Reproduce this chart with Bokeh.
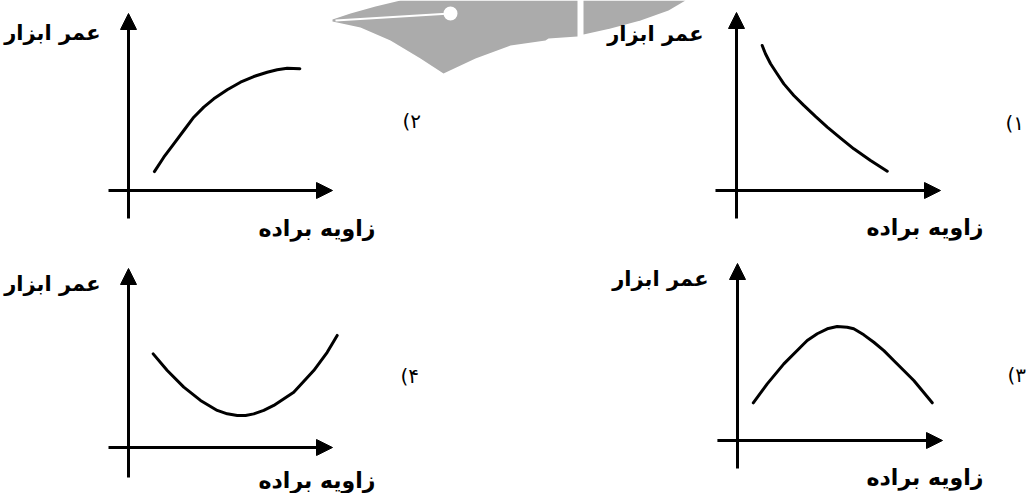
from bokeh.plotting import figure
from bokeh.models import Range1d, Arrow, NormalHead, Label
from bokeh.embed import file_html
from bokeh.resources import INLINE

# ---------------- data ----------------
y_title = "عمر ابزار"
x_title = "زاویه براده"
option_labels = ["(۱", "(۲", "(۳", "(۴"]

# option 1: tool life falls with rake angle
angle_1 = [1.26, 1.42, 1.67, 1.99, 2.32, 2.81, 3.3, 3.87, 4.45, 5.1, 5.75, 6.57, 7.39]
life_1 = [8.15, 7.68, 7.12, 6.56, 5.99, 5.34, 4.78, 4.16, 3.56, 2.94, 2.34, 1.69, 1.08]
# option 2: tool life rises with rake angle
angle_2 = [1.27, 1.73, 2.22, 2.71, 3.2, 3.69, 4.18, 4.84, 5.49, 6.14, 6.8, 7.29, 7.78, 8.4]
life_2 = [1.07, 1.88, 2.64, 3.39, 4.14, 4.71, 5.18, 5.69, 6.12, 6.44, 6.68, 6.82, 6.91, 6.88]
# option 3: tool life has a maximum
angle_3 = [0.77, 1.45, 2.26, 3.07, 3.4, 3.89, 4.38, 4.86, 5.35, 5.67, 6.16, 6.65, 7.14, 7.62, 8.6, 9.5]
life_3 = [2.13, 3.2, 4.33, 5.27, 5.65, 6.03, 6.31, 6.44, 6.4, 6.31, 5.97, 5.55, 5.08, 4.52, 3.39, 2.13]
# option 4: tool life has a minimum
angle_4 = [1.21, 1.9, 2.71, 3.53, 4.35, 4.84, 5.33, 5.74, 6.14, 6.63, 7.12, 8.1, 9.08, 9.74, 10.23]
life_4 = [5.23, 4.3, 3.37, 2.63, 2.07, 1.88, 1.79, 1.79, 1.88, 2.07, 2.35, 3.09, 4.3, 5.32, 6.26]

series = [(angle_1, life_1), (angle_2, life_2), (angle_3, life_3), (angle_4, life_4)]

# ---------------- layout (page pixels) ----------------
W, H = 1032, 493
LEFT, TOP = 0, 0
BOTTOM = TOP + H

panels = [
    dict(o=(736, 190), s=(20.4, 17.8), ax=(-1.03, 10), ay=(-1.57, 10),
         yt=(703, 33), xt=(983, 227), ol=(1005, 122)),
    dict(o=(128, 190), s=(20.4, 17.7), ax=(-0.98, 10), ay=(-1.58, 10),
         yt=(100, 32), xt=(375, 228), ol=(402, 120)),
    dict(o=(737, 440), s=(20.5, 17.7), ax=(-0.98, 10), ay=(-1.58, 10),
         yt=(708, 278), xt=(983, 477), ol=(1007, 374)),
    dict(o=(128, 447), s=(20.4, 17.9), ax=(-0.98, 10), ay=(-1.68, 10),
         yt=(100, 283), xt=(375, 480), ol=(400, 375)),
]

p = figure(width=W, height=H, output_backend="svg", toolbar_location=None,
           x_range=Range1d(LEFT, LEFT + W), y_range=Range1d(BOTTOM, TOP),
           x_axis_type=None, y_axis_type=None, min_border=0)
p.grid.visible = False
p.outline_line_color = None
p.background_fill_color = "white"
p.border_fill_color = "white"

# decorative watermark (pen nib) in page pixels
WM = "#ababab"
p.patch([332, 350, 375, 400, 577, 577, 548, 545, 510, 475, 443, 420, 390, 360, 332],
        [19, 13, 6, 0, 0, 36, 38, 40, 45, 58, 73, 58, 40, 27, 21],
        fill_color=WM, line_color=None)
p.patch([583, 685, 668, 640, 610, 583],
        [0, 0, 10, 20, 28, 34], fill_color=WM, line_color=None)
p.line([335, 450], [20, 13], line_color="white", line_width=2)
p.scatter([450], [13], size=14, fill_color="white", line_color=None)

FONT = "DejaVu Sans"

for i, (cfg, (xs, ys)) in enumerate(zip(panels, series)):
    ox, oy = cfg["o"]
    sx, sy = cfg["s"]
    xn, yn = f"x{i}", f"y{i}"
    xs0 = -(ox - LEFT) / sx
    ys0 = -(BOTTOM - oy) / sy
    p.extra_x_ranges[xn] = Range1d(xs0, xs0 + W / sx)
    p.extra_y_ranges[yn] = Range1d(ys0, ys0 + H / sy)

    p.add_layout(Arrow(end=NormalHead(size=16, fill_color="black", line_color="black", line_width=1),
                       x_start=0, y_start=cfg["ay"][0], x_end=0, y_end=cfg["ay"][1],
                       line_width=3, line_color="black",
                       x_range_name=xn, y_range_name=yn))
    p.add_layout(Arrow(end=NormalHead(size=16, fill_color="black", line_color="black", line_width=1),
                       x_start=cfg["ax"][0], y_start=0, x_end=cfg["ax"][1], y_end=0,
                       line_width=3, line_color="black",
                       x_range_name=xn, y_range_name=yn))
    p.line(xs, ys, line_width=3, line_color="black", line_cap="round", line_join="round",
           x_range_name=xn, y_range_name=yn)

    tx, ty = cfg["yt"]
    p.add_layout(Label(x=tx, y=ty, text=y_title, text_align="right", text_baseline="middle",
                       text_font=FONT, text_font_style="bold", text_font_size="21px",
                       text_color="black"))
    tx, ty = cfg["xt"]
    p.add_layout(Label(x=tx, y=ty, text=x_title, text_align="right", text_baseline="middle",
                       text_font=FONT, text_font_style="bold", text_font_size="22px",
                       text_color="black"))
    tx, ty = cfg["ol"]
    p.add_layout(Label(x=tx, y=ty, text=option_labels[i], text_align="left", text_baseline="middle",
                       text_font=FONT, text_font_size="20px", text_color="black"))

open("out.html", "w").write(file_html(p, INLINE))
